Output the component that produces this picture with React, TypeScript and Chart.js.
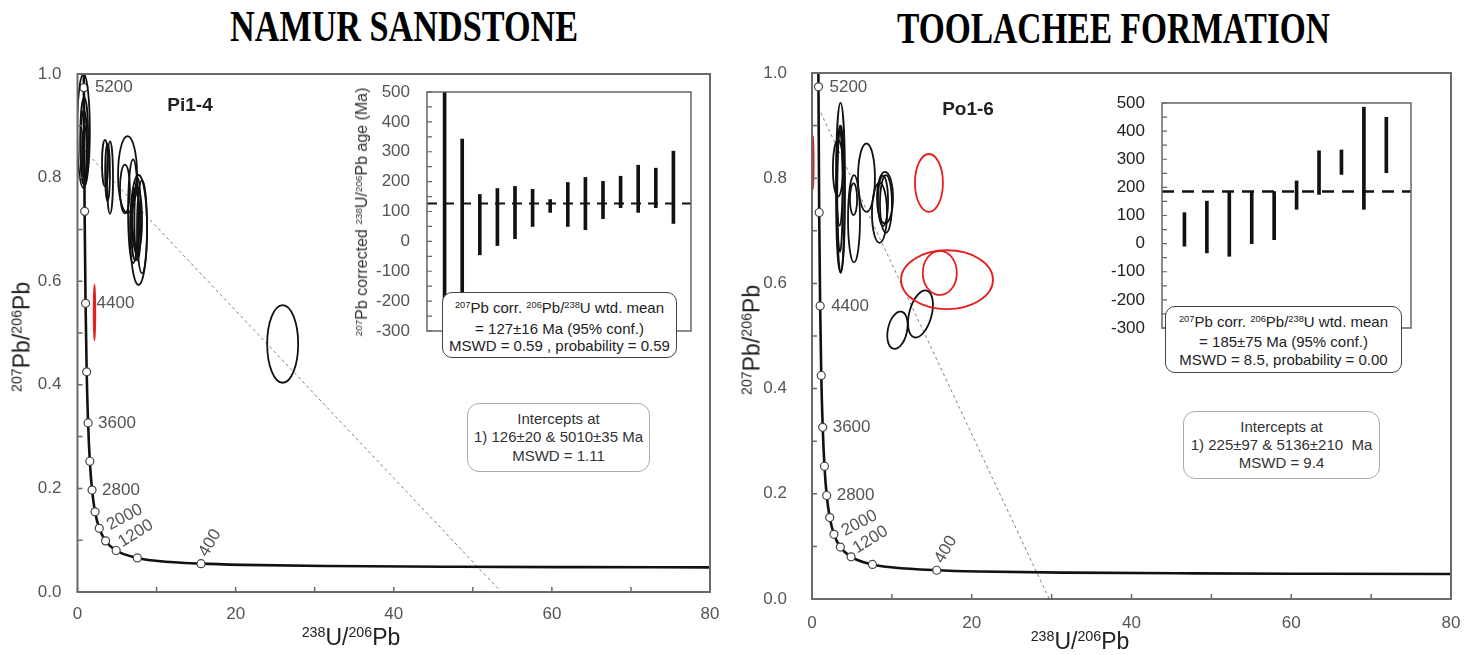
import React, { useEffect, useRef } from 'react';
import { Chart, registerables } from 'chart.js';

Chart.register(...registerables);

const SANS = '"Liberation Sans", Arial, sans-serif';

// Tera–Wasserburg concordia: age markers (Ma) and their isotope ratios
const concordiaAges = [400, 800, 1200, 1600, 2000, 2400, 2800, 3200, 3600, 4000, 4400, 4800, 5200];
const concordiaU238Pb206 = [15.62, 7.57, 4.89, 3.55, 2.75, 2.22, 1.84, 1.56, 1.34, 1.16, 1.02, 0.9, 0.81];
const concordiaPb207Pb206 = [0.0547, 0.0658, 0.0801, 0.0987, 0.123, 0.1548, 0.1968, 0.2524, 0.3264, 0.425, 0.5572, 0.7348, 0.9737];
const labelledAges = [400, 1200, 2000, 2800, 3600, 4400, 5200];

// Concordia trace
const curveU238Pb206 = [0.78, 0.81, 0.9, 1.02, 1.16, 1.34, 1.56, 1.84, 2.22, 2.75, 3.55, 4.89, 7.57, 10.23, 15.62, 21.0, 32.0, 48.0, 64.0, 80.0];
const curvePb207Pb206 = [1.046, 0.9737, 0.7348, 0.5572, 0.425, 0.3264, 0.2524, 0.1968, 0.1548, 0.123, 0.0987, 0.0801, 0.0658, 0.0599, 0.0547, 0.0523, 0.0501, 0.0487, 0.048, 0.0476];

// Spot analyses: [238U/206Pb, 207Pb/206Pb, half-width, half-height, tilt in degrees]
const namurSpots = [
  [0.76, 0.89, 0.8, 0.11, 0],
  [0.85, 0.87, 0.5, 0.085, 0],
  [0.9, 0.85, 0.3, 0.05, 0],
  [0.8, 0.86, 0.4, 0.07, 0],
  [3.48, 0.828, 0.38, 0.045, 0],
  [4.11, 0.8, 0.38, 0.07, 0],
  [3.8, 0.81, 0.3, 0.055, 0],
  [6.33, 0.806, 1.2, 0.074, 0],
  [6.0, 0.778, 0.63, 0.047, 0],
  [7.03, 0.735, 0.63, 0.1, 0],
  [7.72, 0.699, 1.08, 0.106, 0],
  [7.53, 0.718, 0.63, 0.064, 0],
  [8.16, 0.705, 0.63, 0.09, 0],
  [7.4, 0.72, 0.45, 0.05, 0],
  [7.6, 0.72, 0.4, 0.08, 0],
  [7.3, 0.71, 0.5, 0.07, 0],
  [25.95, 0.479, 1.96, 0.075, 0],
];
const namurRejected = [[2.15, 0.54, 0.1, 0.054, 0]];

const toolacheeSpots = [
  [3.57, 0.782, 0.56, 0.161, 0],
  [3.25, 0.819, 0.63, 0.054, 0],
  [3.45, 0.8, 0.4, 0.09, 0],
  [3.5, 0.78, 0.35, 0.12, 0],
  [3.6, 0.76, 0.45, 0.14, 0],
  [5.26, 0.723, 0.75, 0.083, 0],
  [5.2, 0.76, 0.45, 0.03, 0],
  [6.82, 0.801, 1.06, 0.065, 0],
  [9.14, 0.763, 1.0, 0.049, 0],
  [9.26, 0.751, 0.75, 0.055, 0],
  [8.45, 0.734, 0.94, 0.057, 0],
  [8.89, 0.757, 0.63, 0.048, 0],
  [13.58, 0.542, 1.4, 0.046, 15],
  [10.7, 0.511, 1.2, 0.036, 12],
];
const toolacheeRejected = [
  [14.64, 0.791, 1.75, 0.055, 0],
  [16.9, 0.607, 5.76, 0.056, 0],
  [16.0, 0.62, 2.13, 0.042, 0],
  [0.15, 0.83, 0.05, 0.05, 0],
];

// Discordia (regression) lines
const namurDiscordiaX = [0.85, 53.6];
const namurDiscordiaY = [0.853, 0];
const toolacheeDiscordiaX = [0.78, 29.7];
const toolacheeDiscordiaY = [0.935, 0];

// 207Pb-corrected 206Pb/238U ages (Ma), 95% error bars
const namurAgeLow = [-600, -300, -45, -14, 9, 50, 97, 50, 39, 76, 113, 97, 113, 60];
const namurAgeHigh = [900, 342, 157, 177, 184, 174, 140, 197, 214, 201, 218, 255, 245, 302];
const namurMean = 127;
const namurMeanErr = 16;
const toolacheeAgeLow = [-9, -33, -45, 0, 14, 122, 175, 246, 122, 252];
const toolacheeAgeHigh = [110, 151, 185, 185, 185, 223, 330, 333, 485, 449];
const toolacheeMean = 185;
const toolacheeMeanErr = 75;

const ageLabelPlacement: Record<number, [number, number, number]> = {
  5200: [11, 0, 0],
  4400: [11, 0, 0],
  3600: [10, 0, 0],
  2800: [10, 0, 0],
  2000: [11, 2, -28],
  1200: [6, -3, -32],
  400: [6, -6, -60],
};

// Scale paddings reserved for edge labels are dropped so the plot box sits exactly where the layout puts it
const fitHeight = (h: number) => (s: any) => {
  s.height = h;
  s.paddingLeft = 0;
  s.paddingRight = 0;
};
const fitWidth = (w: number) => (s: any) => {
  s.width = w;
  s.paddingTop = 0;
  s.paddingBottom = 0;
};

function framePlugin(o: { color: string; width: number; tick: number; tickWidth: number; xTicks: boolean }) {
  return {
    id: 'frame',
    afterDraw(chart: any) {
      const { ctx, chartArea: a } = chart;
      const xs = chart.scales.x;
      const ys = chart.scales.y;
      ctx.save();
      ctx.strokeStyle = o.color;
      ctx.lineWidth = o.tickWidth;
      ctx.beginPath();
      ys.ticks.forEach((t: any) => {
        const p = ys.getPixelForValue(t.value);
        ctx.moveTo(a.left, p);
        ctx.lineTo(a.left + o.tick, p);
      });
      if (o.xTicks) {
        xs.ticks.forEach((t: any) => {
          const p = xs.getPixelForValue(t.value);
          ctx.moveTo(p, a.bottom);
          ctx.lineTo(p, a.bottom - o.tick);
        });
      }
      ctx.stroke();
      ctx.lineWidth = o.width;
      ctx.strokeRect(a.left, a.top, a.right - a.left, a.bottom - a.top);
      ctx.restore();
    },
  };
}

function spotsPlugin(spots: number[][], rejected: number[][]) {
  return {
    id: 'spots',
    afterDatasetsDraw(chart: any) {
      const { ctx, chartArea: a } = chart;
      const xs = chart.scales.x;
      const ys = chart.scales.y;
      ctx.save();
      ctx.beginPath();
      ctx.rect(a.left, a.top, a.right - a.left, a.bottom - a.top);
      ctx.clip();
      const draw = (list: number[][], color: string) =>
        list.forEach(([cx, cy, sx, sy, tilt]) => {
          const px = xs.getPixelForValue(cx);
          const py = ys.getPixelForValue(cy);
          const rx = Math.abs(xs.getPixelForValue(cx + sx) - px);
          const ry = Math.abs(ys.getPixelForValue(cy + sy) - py);
          ctx.beginPath();
          ctx.ellipse(px, py, rx, ry, (tilt * Math.PI) / 180, 0, Math.PI * 2);
          ctx.strokeStyle = color;
          ctx.lineWidth = 1.8;
          ctx.stroke();
        });
      draw(spots, '#111');
      draw(rejected, '#e61e1e');
      ctx.restore();
    },
  };
}

function ageLabelPlugin() {
  return {
    id: 'ageLabels',
    afterDatasetsDraw(chart: any) {
      const { ctx } = chart;
      const xs = chart.scales.x;
      const ys = chart.scales.y;
      ctx.save();
      ctx.fillStyle = '#555';
      ctx.font = `17px ${SANS}`;
      labelledAges.forEach((age) => {
        const i = concordiaAges.indexOf(age);
        const px = xs.getPixelForValue(concordiaU238Pb206[i]);
        const py = ys.getPixelForValue(concordiaPb207Pb206[i]);
        const [dx, dy, rot] = ageLabelPlacement[age];
        ctx.save();
        ctx.translate(px + dx, py + dy);
        ctx.rotate((rot * Math.PI) / 180);
        ctx.textAlign = 'left';
        ctx.textBaseline = rot === 0 ? 'middle' : 'alphabetic';
        ctx.fillText(String(age), 0, 0);
        ctx.restore();
      });
      ctx.restore();
    },
  };
}

function ratioChart(o: {
  spots: number[][];
  rejected: number[][];
  discX: number[];
  discY: number[];
  padTop: number;
  padRight: number;
  yWidth: number;
  xHeight: number;
  yLabelPad: number;
  xLabelPad: number;
}) {
  const curve = curveU238Pb206.map((x, i) => ({ x, y: curvePb207Pb206[i] }));
  const markers = concordiaU238Pb206.map((x, i) => ({ x, y: concordiaPb207Pb206[i] }));
  const discordia = o.discX.map((x, i) => ({ x, y: o.discY[i] }));
  const tickFont = { family: SANS, size: 17 };
  return {
    type: 'scatter',
    data: {
      datasets: [
        {
          data: markers,
          pointRadius: 4,
          pointBackgroundColor: '#fff',
          pointBorderColor: '#444',
          pointBorderWidth: 1.2,
          showLine: false,
        },
        {
          data: curve,
          showLine: true,
          borderColor: '#111',
          borderWidth: 2.6,
          pointRadius: 0,
          cubicInterpolationMode: 'monotone',
        },
        {
          data: discordia,
          showLine: true,
          borderColor: '#808080',
          borderWidth: 1,
          borderDash: [3, 3],
          pointRadius: 0,
        },
      ],
    },
    options: {
      responsive: false,
      animation: false,
      events: [],
      layout: { autoPadding: false, padding: { left: 0, top: o.padTop, right: o.padRight, bottom: 0 } },
      plugins: { legend: { display: false }, tooltip: { enabled: false } },
      scales: {
        x: {
          type: 'linear',
          min: 0,
          max: 80,
          grid: { display: false, drawTicks: false },
          border: { display: false },
          ticks: {
            stepSize: 10,
            autoSkip: false,
            maxRotation: 0,
            padding: o.xLabelPad,
            color: '#555',
            font: tickFont,
            callback: (v: number) => (v % 20 === 0 ? String(v) : ''),
          },
          afterFit: fitHeight(o.xHeight),
        },
        y: {
          type: 'linear',
          min: 0,
          max: 1,
          grid: { display: false, drawTicks: false },
          border: { display: false },
          ticks: {
            stepSize: 0.1,
            autoSkip: false,
            padding: o.yLabelPad,
            color: '#555',
            font: tickFont,
            callback: (v: number) => (Math.round(v * 10) % 2 === 0 ? Number(v).toFixed(1) : ''),
          },
          afterFit: fitWidth(o.yWidth),
        },
      },
    },
    plugins: [
      framePlugin({ color: '#6a6a6a', width: 2, tick: 5, tickWidth: 1.5, xTicks: true }),
      spotsPlugin(o.spots, o.rejected),
      ageLabelPlugin(),
    ],
  };
}

function ageChart(o: {
  low: number[];
  high: number[];
  mean: number;
  xMax: number;
  labelColor: string;
  meanWidth: number;
  meanDash: number[];
  padTop: number;
  padRight: number;
  padBottom: number;
  yWidth: number;
  yLabelPad: number;
}) {
  return {
    type: 'bar',
    data: {
      datasets: [
        {
          type: 'line',
          data: [
            { x: 0, y: o.mean },
            { x: o.xMax, y: o.mean },
          ],
          borderColor: '#111',
          borderWidth: o.meanWidth,
          borderDash: o.meanDash,
          pointRadius: 0,
        },
        {
          type: 'bar',
          data: o.low.map((l, i) => ({ x: i + 1, y: [l, o.high[i]] })),
          backgroundColor: '#111',
          borderWidth: 0,
          barThickness: 3,
        },
      ],
    },
    options: {
      responsive: false,
      animation: false,
      events: [],
      layout: { autoPadding: false, padding: { left: 0, top: o.padTop, right: o.padRight, bottom: o.padBottom } },
      plugins: { legend: { display: false }, tooltip: { enabled: false } },
      scales: {
        x: { type: 'linear', display: false, min: 0, max: o.xMax, offset: false },
        y: {
          type: 'linear',
          min: -300,
          max: 500,
          grid: { display: false, drawTicks: false },
          border: { display: false },
          ticks: {
            stepSize: 50,
            autoSkip: false,
            padding: o.yLabelPad,
            color: o.labelColor,
            font: { family: SANS, size: 17 },
            callback: (v: number) => (v % 100 === 0 ? String(v) : ''),
          },
          afterFit: fitWidth(o.yWidth),
        },
      },
    },
    plugins: [framePlugin({ color: '#666', width: 1.5, tick: 5, tickWidth: 1.2, xTicks: false })],
  };
}

function ChartCanvas(props: { left: number; top: number; width: number; height: number; build: () => any }) {
  const ref = useRef<HTMLCanvasElement>(null);
  useEffect(() => {
    const chart = new Chart(ref.current as HTMLCanvasElement, props.build());
    return () => chart.destroy();
  }, []);
  return (
    <canvas
      ref={ref}
      width={props.width}
      height={props.height}
      style={{ position: 'absolute', left: props.left, top: props.top, width: props.width, height: props.height }}
    />
  );
}

const Sup = ({ children }: { children: React.ReactNode }) => (
  <span style={{ fontSize: '0.62em', position: 'relative', top: '-0.55em' }}>{children}</span>
);

function NoteBox(props: {
  left: number;
  top: number;
  width: number;
  height: number;
  border: string;
  radius: number;
  color: string;
  lineHeight: number;
  padTop?: number;
  children: React.ReactNode;
}) {
  return (
    <div
      style={{
        position: 'absolute',
        left: props.left,
        top: props.top,
        width: props.width,
        height: props.height,
        boxSizing: 'border-box',
        border: props.border,
        borderRadius: props.radius,
        background: '#fff',
        display: 'flex',
        flexDirection: 'column',
        justifyContent: 'center',
        alignItems: 'center',
        paddingTop: props.padTop || 0,
        font: `15px ${SANS}`,
        color: props.color,
        lineHeight: `${props.lineHeight}px`,
        whiteSpace: 'nowrap',
      }}
    >
      {props.children}
    </div>
  );
}

function Label(props: { x: number; y: number; rotate?: boolean; size: number; color: string; bold?: boolean; children: React.ReactNode }) {
  return (
    <div
      style={{
        position: 'absolute',
        left: props.x,
        top: props.y,
        transform: `translate(-50%, -50%)${props.rotate ? ' rotate(-90deg)' : ''}`,
        whiteSpace: 'nowrap',
        font: `${props.bold ? 'bold ' : ''}${props.size}px ${SANS}`,
        color: props.color,
        lineHeight: 1,
      }}
    >
      {props.children}
    </div>
  );
}

const RatioY = () => (
  <>
    <Sup>207</Sup>Pb/<Sup>206</Sup>Pb
  </>
);
const RatioX = () => (
  <>
    <Sup>238</Sup>U/<Sup>206</Sup>Pb
  </>
);

export default function App() {
  return (
    <div style={{ position: 'absolute', left: 0, top: 0, width: 1475, height: 655, background: '#fff', overflow: 'hidden' }}>
      <svg width={1475} height={60} style={{ position: 'absolute', left: 0, top: 0 }}>
        <text x={230} y={41} textLength={348} lengthAdjust="spacingAndGlyphs" style={{ font: 'bold 44px "Liberation Serif", serif' }}>
          NAMUR SANDSTONE
        </text>
        <text x={897} y={43} textLength={433} lengthAdjust="spacingAndGlyphs" style={{ font: 'bold 44px "Liberation Serif", serif' }}>
          TOOLACHEE FORMATION
        </text>
      </svg>

      <ChartCanvas
        left={0}
        top={60}
        width={730}
        height={595}
        build={() =>
          ratioChart({
            spots: namurSpots,
            rejected: namurRejected,
            discX: namurDiscordiaX,
            discY: namurDiscordiaY,
            padTop: 14,
            padRight: 20,
            yWidth: 77.5,
            xHeight: 63,
            yLabelPad: 16,
            xLabelPad: 12,
          })
        }
      />
      <ChartCanvas
        left={730}
        top={60}
        width={745}
        height={595}
        build={() =>
          ratioChart({
            spots: toolacheeSpots,
            rejected: toolacheeRejected,
            discX: toolacheeDiscordiaX,
            discY: toolacheeDiscordiaY,
            padTop: 13,
            padRight: 24,
            yWidth: 82,
            xHeight: 56,
            yLabelPad: 25,
            xLabelPad: 14,
          })
        }
      />
      <ChartCanvas
        left={360}
        top={80}
        width={345}
        height={262}
        build={() =>
          ageChart({
            low: namurAgeLow,
            high: namurAgeHigh,
            mean: namurMean,
            xMax: 15,
            labelColor: '#555',
            meanWidth: 2,
            meanDash: [10, 7],
            padTop: 12,
            padRight: 14,
            padBottom: 11,
            yWidth: 67,
            yLabelPad: 17,
          })
        }
      />
      <ChartCanvas
        left={1100}
        top={90}
        width={330}
        height={250}
        build={() =>
          ageChart({
            low: toolacheeAgeLow,
            high: toolacheeAgeHigh,
            mean: toolacheeMean,
            xMax: 11.1,
            labelColor: '#222',
            meanWidth: 2.5,
            meanDash: [12, 8],
            padTop: 13,
            padRight: 19,
            padBottom: 12,
            yWidth: 62,
            yLabelPad: 17,
          })
        }
      />

      <Label x={190} y={104} size={19} color="#222" bold>
        Pi1-4
      </Label>
      <Label x={968} y={108} size={19} color="#222" bold>
        Po1-6
      </Label>

      <Label x={22} y={337} size={23} color="#222" rotate>
        <RatioY />
      </Label>
      <Label x={752} y={340} size={23} color="#222" rotate>
        <RatioY />
      </Label>
      <Label x={351} y={637} size={23} color="#222">
        <RatioX />
      </Label>
      <Label x={1080} y={641} size={23} color="#222">
        <RatioX />
      </Label>

      <Label x={362} y={212} size={16} color="#333" rotate>
        <Sup>207</Sup>Pb corrected <Sup>238</Sup>U/<Sup>206</Sup>Pb age (Ma)
      </Label>

      <NoteBox left={442} top={292} width={235} height={66} border="1.5px solid #444" radius={10} color="#222" lineHeight={17.5} padTop={4}>
        <div>
          <Sup>207</Sup>Pb corr. <Sup>206</Sup>Pb/<Sup>238</Sup>U wtd. mean
        </div>
        <div>
          = {namurMean}±{namurMeanErr} Ma (95% conf.)
        </div>
        <div>MSWD = 0.59 , probability = 0.59</div>
      </NoteBox>
      <NoteBox left={1165} top={306} width={237} height={67} border="1.5px solid #444" radius={10} color="#222" lineHeight={17.5} padTop={2}>
        <div>
          <Sup>207</Sup>Pb corr. <Sup>206</Sup>Pb/<Sup>238</Sup>U wtd. mean
        </div>
        <div>
          = {toolacheeMean}±{toolacheeMeanErr} Ma (95% conf.)
        </div>
        <div>MSWD = 8.5, probability = 0.00</div>
      </NoteBox>

      <NoteBox left={467} top={403} width={183} height={69} border="1px solid #aaa" radius={12} color="#333" lineHeight={18.5}>
        <div>Intercepts at</div>
        <div>1) 126±20 &amp; 5010±35 Ma</div>
        <div>MSWD = 1.11</div>
      </NoteBox>
      <NoteBox left={1183} top={411} width={197} height={68} border="1px solid #aaa" radius={12} color="#333" lineHeight={18}>
        <div>Intercepts at</div>
        <div>1) 225±97 &amp; 5136±210&nbsp; Ma</div>
        <div>MSWD = 9.4</div>
      </NoteBox>
    </div>
  );
}
